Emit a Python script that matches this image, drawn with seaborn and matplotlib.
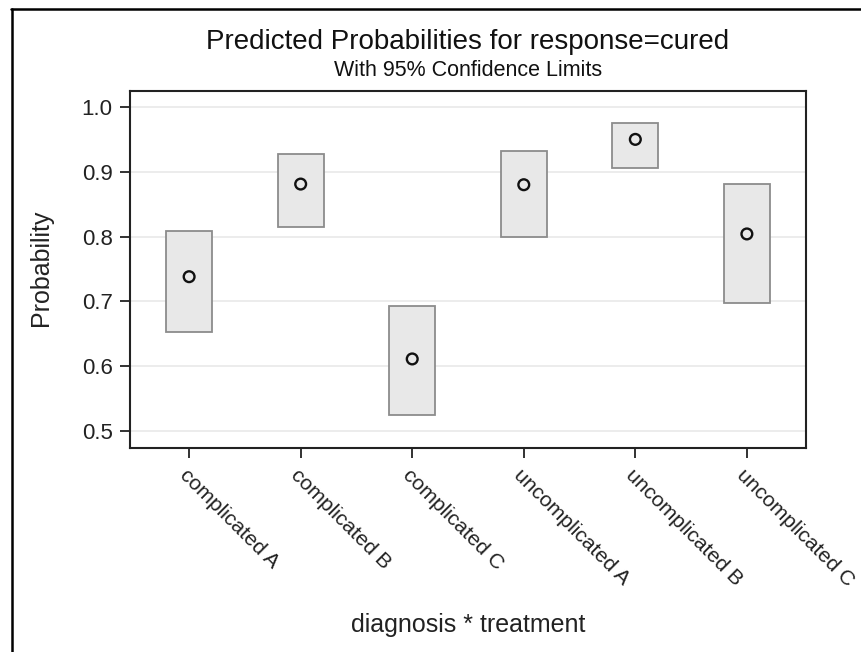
import matplotlib
matplotlib.use("Agg")
import matplotlib.pyplot as plt
import seaborn as sns
import pandas as pd
from matplotlib.lines import Line2D

categories = ["complicated A", "complicated B", "complicated C",
              "uncomplicated A", "uncomplicated B", "uncomplicated C"]
estimate = [0.738, 0.881, 0.611, 0.880, 0.950, 0.804]
lower = [0.653, 0.815, 0.524, 0.799, 0.906, 0.697]
upper = [0.809, 0.927, 0.692, 0.932, 0.975, 0.881]
yticks = [0.5, 0.6, 0.7, 0.8, 0.9, 1.0]

df = pd.DataFrame({"cat": categories, "est": estimate, "lo": lower, "hi": upper})

sns.set_style("white")
plt.rcParams["font.family"] = ["Liberation Sans", "DejaVu Sans"]

fig = plt.figure(figsize=(8.61, 6.52), dpi=100)
ax = fig.add_axes([130 / 861, 1 - 448 / 652, (806 - 130) / 861, (448 - 91) / 652])

ax.bar(df["cat"], df["hi"] - df["lo"], bottom=df["lo"], width=0.41,
       color="#e8e8e8", edgecolor="#8c8c8c", linewidth=1.3, zorder=2)
sns.scatterplot(data=df, x="cat", y="est", ax=ax, marker="o", s=60,
                facecolor="none", edgecolor="#111111", linewidth=1.7, zorder=3)

ax.set_xlim(-0.53, 5.53)
ax.set_ylim(0.4735, 1.0247)
ax.set_yticks(yticks)
ax.set_yticklabels([f"{v:.1f}" for v in yticks], fontsize=16, color="#222222")
ax.yaxis.grid(True, color="#ebebeb", linewidth=1.3, zorder=0)
ax.xaxis.grid(False)
ax.set_axisbelow(True)
ax.tick_params(axis="both", direction="out", length=7.5, width=1.3, color="#222222",
               left=True, bottom=True, pad=5)
ax.set_xticks(range(len(categories)))
ax.set_xticklabels(categories, rotation=-45, ha="left", va="top",
                   rotation_mode="anchor", fontsize=15.2, color="#222222")
for s in ax.spines.values():
    s.set_color("#222222")
    s.set_linewidth(1.5)

ax.set_xlabel("")
ax.set_ylabel("")
fig.text(468 / 861, 1 - 625 / 652, "diagnosis * treatment", ha="center", va="center",
         fontsize=18, color="#222222")
fig.text(41 / 861, 1 - 268 / 652, "Probability", ha="center", va="center",
         rotation=90, fontsize=18, color="#222222")

fig.text(468 / 861, 1 - 49 / 652, "Predicted Probabilities for response=cured",
         ha="center", va="baseline", fontsize=20, color="#111111")
fig.text(468 / 861, 1 - 76 / 652, "With 95% Confidence Limits",
         ha="center", va="baseline", fontsize=15.5, color="#111111")

# outer frame (top and left edges)
fig.add_artist(Line2D([11 / 861, 1.0], [1 - 9 / 652, 1 - 9 / 652],
                      transform=fig.transFigure, color="black", linewidth=1.8))
fig.add_artist(Line2D([11.5 / 861, 11.5 / 861], [0, 1 - 9 / 652],
                      transform=fig.transFigure, color="black", linewidth=1.8))

fig.savefig("out.png", dpi=100)
